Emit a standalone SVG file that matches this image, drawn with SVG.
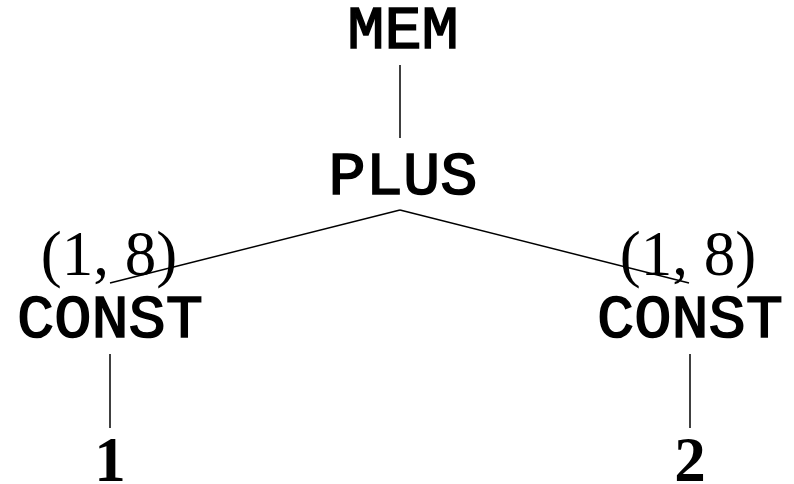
<svg xmlns="http://www.w3.org/2000/svg" width="794" height="484" viewBox="0 0 794 484">
  <style>
    .op { font-family: "Liberation Mono", "Courier New", monospace; font-size: 62px; fill: #000; stroke: #000; stroke-width: 1.6; text-anchor: middle; }
    .attr { font-family: "Liberation Serif", "Times New Roman", serif; font-size: 63px; fill: #000; text-anchor: middle; }
    .leaf { font-family: "Liberation Serif", "Times New Roman", serif; font-weight: bold; font-size: 63px; fill: #000; text-anchor: middle; }
    .edge { stroke: #000; stroke-width: 1.5; fill: none; }
  </style>
  <rect width="794" height="484" fill="#fff"/>
  <g id="connectors">
    <line class="edge" x1="400" y1="65" x2="400" y2="138"/>
    <line class="edge" x1="400" y1="210" x2="110" y2="283"/>
    <line class="edge" x1="400" y1="210" x2="689" y2="283"/>
    <line class="edge" x1="110" y1="354" x2="110" y2="428"/>
    <line class="edge" x1="690" y1="354" x2="690" y2="428"/>
  </g>
  <g id="mem"><text class="op" x="403" y="48">MEM</text></g>
  <g id="plus"><text class="op" x="403" y="194">PLUS</text></g>
  <g id="const-left">
    <text class="attr" x="109" y="275">(1, 8)</text>
    <text class="op" x="110" y="337">CONST</text>
  </g>
  <g id="const-right">
    <text class="attr" x="688" y="275">(1, 8)</text>
    <text class="op" x="690" y="337">CONST</text>
  </g>
  <g id="leaf-1"><text class="leaf" x="110" y="481">1</text></g>
  <g id="leaf-2"><text class="leaf" x="690" y="481">2</text></g>
</svg>
